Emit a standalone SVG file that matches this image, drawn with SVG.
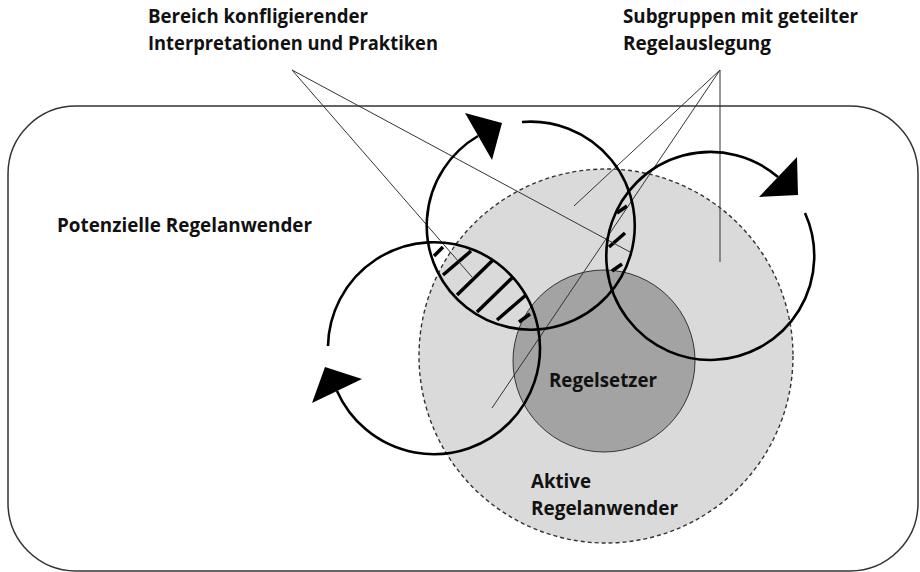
<svg xmlns="http://www.w3.org/2000/svg" width="920" height="572" viewBox="0 0 920 572">
  <style>
    .lbl { font-family: "Open Sans", "Lato", "Liberation Sans", sans-serif; font-weight: 700; font-size: 19.5px; fill: #111; }
    .cycle { fill: none; stroke: #000; stroke-width: 2.6; }
    .head { fill: #000; stroke: none; }
    .hatch { stroke: #000; stroke-width: 3.5; stroke-linecap: butt; }
    .leader { stroke: #333; stroke-width: 1; fill: none; }
  </style>
  <rect width="920" height="572" fill="#fff"/>

  <g id="potenzielle-regelanwender">
    <rect x="8" y="106" width="910" height="465" rx="68" ry="68" fill="#fff" stroke="#333" stroke-width="1.5"/>
    <text class="lbl" x="57" y="232" textLength="255" lengthAdjust="spacingAndGlyphs">Potenzielle Regelanwender</text>
  </g>

  <g id="aktive-regelanwender">
    <circle cx="606" cy="356" r="187" fill="#dadada" stroke="#333" stroke-width="1.4" stroke-dasharray="4 3"/>
  </g>

  <g id="regelsetzer">
    <circle cx="604" cy="361" r="91" fill="#a3a3a3" stroke="#333" stroke-width="1"/>
  </g>

  <g id="konfliktbereich-hatching">
    <line class="hatch" x1="434" y1="256" x2="443" y2="247"/>
    <line class="hatch" x1="443" y1="275" x2="471" y2="251"/>
    <line class="hatch" x1="457" y1="295" x2="493" y2="260"/>
    <line class="hatch" x1="477" y1="312" x2="513" y2="277"/>
    <line class="hatch" x1="497" y1="320" x2="526" y2="295"/>
    <line class="hatch" x1="519" y1="322" x2="530" y2="314"/>
    <line class="hatch" x1="617" y1="213" x2="627" y2="206"/>
    <line class="hatch" x1="609" y1="247" x2="625" y2="233"/>
    <line class="hatch" x1="612" y1="271" x2="622" y2="264"/>
  </g>

  <g id="connectors">
    <line class="leader" x1="292" y1="70" x2="472" y2="277"/>
    <line class="leader" x1="292" y1="70" x2="630" y2="252"/>
    <line class="leader" x1="720" y1="70" x2="720" y2="262"/>
    <line class="leader" x1="720" y1="70" x2="574" y2="206"/>
    <line class="leader" x1="720" y1="70" x2="492" y2="408"/>
  </g>

  <g id="subgruppe-oben">
    <path class="cycle" d="M 522 122 A 104 104 0 1 1 478 136"/>
    <polygon class="head" points="465,113 502,123 492,160"/>
  </g>

  <g id="subgruppe-rechts">
    <path class="cycle" d="M 805 213 A 104 104 0 1 1 778 177"/>
    <polygon class="head" points="797,157 798,195 759,197"/>
  </g>

  <g id="subgruppe-links">
    <path class="cycle" d="M 328 346 A 106 106 0 1 1 337 391"/>
    <polygon class="head" points="312,403 325,367 362,379"/>
  </g>

  <g id="labels">
    <text class="lbl" x="148" y="23" textLength="220" lengthAdjust="spacingAndGlyphs">Bereich konfligierender</text>
    <text class="lbl" x="148" y="50" textLength="290" lengthAdjust="spacingAndGlyphs">Interpretationen und Praktiken</text>
    <text class="lbl" x="623" y="23" textLength="235" lengthAdjust="spacingAndGlyphs">Subgruppen mit geteilter</text>
    <text class="lbl" x="623" y="50" textLength="148" lengthAdjust="spacingAndGlyphs">Regelauslegung</text>
    <text class="lbl" x="549" y="387" textLength="108" lengthAdjust="spacingAndGlyphs">Regelsetzer</text>
    <text class="lbl" x="531" y="488" textLength="60" lengthAdjust="spacingAndGlyphs">Aktive</text>
    <text class="lbl" x="531" y="515" textLength="147" lengthAdjust="spacingAndGlyphs">Regelanwender</text>
  </g>
</svg>
